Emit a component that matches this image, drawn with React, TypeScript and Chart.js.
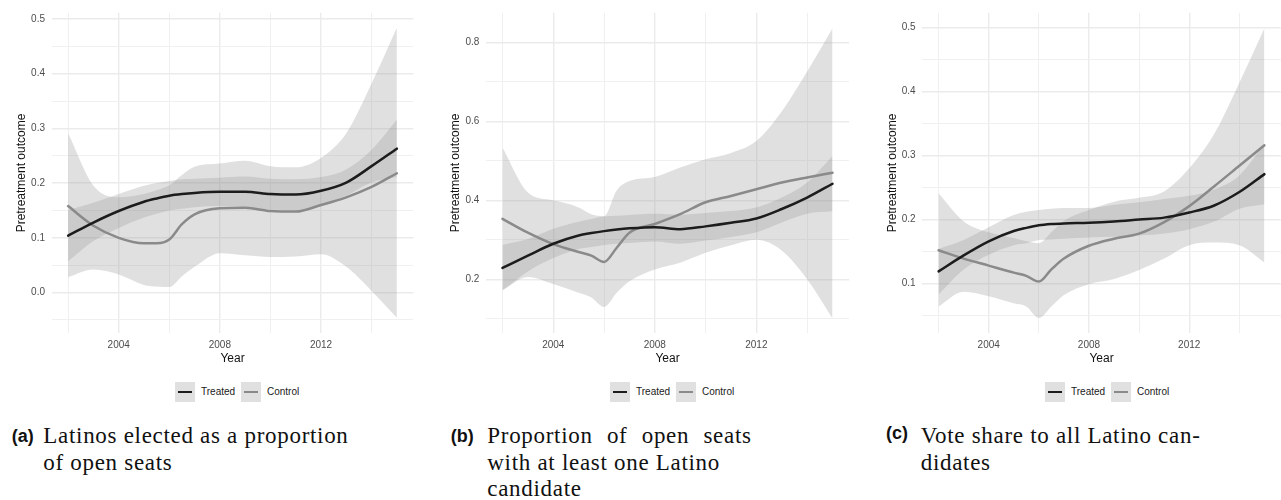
import React, { useEffect, useRef } from "react";
import { Chart, registerables } from "chart.js";

Chart.register(...registerables);

// ---------- shared data ----------
const years = [2002, 2003, 2004, 2005, 2005.5, 2006, 2006.5, 2007, 2008, 2009, 2010, 2011, 2012, 2013, 2014, 2015];
const xGridYears = [2002, 2004, 2006, 2008, 2010, 2012, 2014];
const xLabelYears = [2004, 2008, 2012];
const seriesLabels = ["Treated", "Control"];
const xTitle = "Year";
const yTitle = "Pretreatment outcome";

// ---------- (a) ----------
const treatedMeanA = [0.104, 0.128, 0.149, 0.166, 0.172, 0.177, 0.18, 0.182, 0.184, 0.184, 0.18, 0.179, 0.186, 0.201, 0.231, 0.263];
const treatedUpperA = [0.151, 0.164, 0.18, 0.195, 0.2, 0.204, 0.207, 0.208, 0.21, 0.212, 0.208, 0.207, 0.211, 0.225, 0.261, 0.316];
const treatedLowerA = [0.057, 0.094, 0.118, 0.137, 0.144, 0.15, 0.153, 0.156, 0.158, 0.156, 0.152, 0.151, 0.161, 0.177, 0.201, 0.211];
const controlMeanA = [0.158, 0.122, 0.1, 0.09, 0.09, 0.097, 0.125, 0.143, 0.154, 0.155, 0.149, 0.148, 0.16, 0.174, 0.193, 0.218];
const controlUpperA = [0.291, 0.195, 0.174, 0.18, 0.187, 0.196, 0.215, 0.23, 0.236, 0.241, 0.231, 0.229, 0.246, 0.291, 0.382, 0.484];
const controlLowerA = [0.028, 0.042, 0.033, 0.014, 0.011, 0.01, 0.03, 0.047, 0.072, 0.068, 0.065, 0.066, 0.07, 0.047, 0.003, -0.046];
const yGridA = [-0.05, 0, 0.05, 0.1, 0.15, 0.2, 0.25, 0.3, 0.35, 0.4, 0.45, 0.5];
const yLabelA = [0, 0.1, 0.2, 0.3, 0.4, 0.5];
const captionLabelA = "(a)";
const captionA = ["Latinos elected as a proportion", "of open seats"];

// ---------- (b) ----------
const treatedMeanB = [0.229, 0.26, 0.29, 0.311, 0.317, 0.322, 0.326, 0.329, 0.332, 0.327, 0.334, 0.343, 0.354, 0.378, 0.407, 0.442];
const treatedUpperB = [0.287, 0.302, 0.328, 0.346, 0.353, 0.359, 0.361, 0.363, 0.366, 0.364, 0.368, 0.373, 0.382, 0.407, 0.445, 0.512];
const treatedLowerB = [0.172, 0.22, 0.254, 0.277, 0.282, 0.287, 0.29, 0.292, 0.296, 0.29, 0.298, 0.307, 0.319, 0.344, 0.366, 0.372];
const controlMeanB = [0.353, 0.318, 0.289, 0.269, 0.26, 0.244, 0.28, 0.318, 0.34, 0.365, 0.395, 0.411, 0.428, 0.445, 0.458, 0.47];
const controlUpperB = [0.533, 0.42, 0.4, 0.382, 0.365, 0.36, 0.425, 0.449, 0.459, 0.483, 0.504, 0.52, 0.55, 0.625, 0.726, 0.835];
const controlLowerB = [0.172, 0.206, 0.188, 0.166, 0.154, 0.13, 0.166, 0.195, 0.225, 0.242, 0.267, 0.286, 0.3, 0.273, 0.2, 0.101];
const yGridB = [0.1, 0.2, 0.3, 0.4, 0.5, 0.6, 0.7, 0.8];
const yLabelB = [0.2, 0.4, 0.6, 0.8];
const captionLabelB = "(b)";
const captionB = ["Proportion of open seats", "with at least one Latino", "candidate"];

// ---------- (c) ----------
const treatedMeanC = [0.119, 0.144, 0.166, 0.182, 0.187, 0.191, 0.193, 0.194, 0.195, 0.197, 0.2, 0.203, 0.211, 0.222, 0.243, 0.271];
const treatedUpperC = [0.154, 0.168, 0.188, 0.207, 0.212, 0.215, 0.217, 0.218, 0.218, 0.223, 0.227, 0.232, 0.237, 0.247, 0.269, 0.318];
const treatedLowerC = [0.083, 0.122, 0.145, 0.16, 0.163, 0.168, 0.169, 0.17, 0.172, 0.173, 0.175, 0.178, 0.185, 0.197, 0.217, 0.224];
const controlMeanC = [0.152, 0.139, 0.128, 0.117, 0.112, 0.103, 0.122, 0.139, 0.159, 0.17, 0.178, 0.196, 0.221, 0.252, 0.284, 0.316];
const controlUpperC = [0.241, 0.197, 0.18, 0.171, 0.166, 0.163, 0.18, 0.198, 0.215, 0.228, 0.234, 0.244, 0.28, 0.334, 0.414, 0.499];
const controlLowerC = [0.064, 0.087, 0.08, 0.069, 0.064, 0.046, 0.064, 0.082, 0.099, 0.107, 0.121, 0.139, 0.16, 0.164, 0.16, 0.133];
const yGridC = [0.05, 0.1, 0.15, 0.2, 0.25, 0.3, 0.35, 0.4, 0.45, 0.5];
const yLabelC = [0.1, 0.2, 0.3, 0.4, 0.5];
const captionLabelC = "(c)";
const captionC = ["Vote share to all Latino can-", "didates"];

// ---------- styling / layout ----------
const RIBBON = "rgba(153,153,153,0.3)";
const TREATED_COLOR = "#1c1c1c";
const CONTROL_COLOR = "#8a8a8a";
const CANVAS_H = 372;
const Y_AXIS_W = 40;
const X_AXIS_H = CANVAS_H - 333.3;
const SANS = "'Liberation Sans', Arial, sans-serif";
const SERIF = "'Liberation Serif', 'Times New Roman', serif";

type PanelData = {
  tm: number[]; tu: number[]; tl: number[];
  cm: number[]; cu: number[]; cl: number[];
  yGrid: number[]; yLabels: number[];
};

type PanelLayout = {
  canvasLeft: number; canvasWidth: number; chartLeft: number; chartRight: number;
  yMin: number; yMax: number; legendLeft: number;
  capLabelLeft: number; capLabelTop: number; capTextLeft: number; justifyFirst?: number;
};

const near = (list: number[], v: number) => list.some((l) => Math.abs(l - v) < 1e-9);

function Panel({ data, layout, label, caption }: { data: PanelData; layout: PanelLayout; label: string; caption: string[] }) {
  const ref = useRef<HTMLCanvasElement | null>(null);

  useEffect(() => {
    if (!ref.current) return;
    const pts = (arr: number[]) => years.map((x, i) => ({ x, y: arr[i] }));
    const ribbonBase = { borderColor: "transparent", borderWidth: 0, pointRadius: 0 };
    const chart = new Chart(ref.current, {
      type: "line",
      data: {
        datasets: [
          { label: "Treated upper", data: pts(data.tu), fill: "+1", backgroundColor: RIBBON, order: 4, ...ribbonBase },
          { label: "Treated lower", data: pts(data.tl), fill: false, order: 4, ...ribbonBase },
          { label: "Control upper", data: pts(data.cu), fill: "+1", backgroundColor: RIBBON, order: 3, ...ribbonBase },
          { label: "Control lower", data: pts(data.cl), fill: false, order: 3, ...ribbonBase },
          { label: seriesLabels[1], data: pts(data.cm), borderColor: CONTROL_COLOR, borderWidth: 2.5, fill: false, pointRadius: 0, order: 1 },
          { label: seriesLabels[0], data: pts(data.tm), borderColor: TREATED_COLOR, borderWidth: 2.5, fill: false, pointRadius: 0, order: 0 },
        ],
      } as any,
      options: {
        responsive: false,
        animation: false,
        devicePixelRatio: 1,
        events: [],
        layout: {
          padding: {
            left: layout.chartLeft - Y_AXIS_W - layout.canvasLeft,
            right: layout.canvasLeft + layout.canvasWidth - layout.chartRight,
            top: 11,
            bottom: 0,
          },
        },
        elements: {
          line: { cubicInterpolationMode: "monotone", borderCapStyle: "round" },
          point: { radius: 0 },
        },
        plugins: { legend: { display: false }, tooltip: { enabled: false } },
        scales: {
          x: {
            type: "linear",
            min: 2001.35,
            max: 2015.65,
            afterBuildTicks: (s: any) => {
              s.ticks = xGridYears.map((v) => ({ value: v }));
            },
            afterFit: (s: any) => {
              s.height = X_AXIS_H;
            },
            border: { display: false },
            grid: {
              drawTicks: false,
              color: (c: any) => (near(xLabelYears, c.tick?.value) ? "#ebebeb" : "#f0f0f0"),
              lineWidth: (c: any) => (near(xLabelYears, c.tick?.value) ? 1.4 : 1),
            },
            ticks: {
              autoSkip: false,
              maxRotation: 0,
              padding: 5.5,
              color: "#4d4d4d",
              font: { family: SANS, size: 10 },
              callback: (v: any) => (near(xLabelYears, Number(v)) ? String(v) : ""),
            },
            title: {
              display: true,
              text: xTitle,
              color: "#111",
              font: { family: SANS, size: 12 },
              padding: { top: 0, bottom: 6 },
            },
          },
          y: {
            type: "linear",
            min: layout.yMin,
            max: layout.yMax,
            afterBuildTicks: (s: any) => {
              s.ticks = data.yGrid.map((v) => ({ value: v }));
            },
            afterFit: (s: any) => {
              s.width = Y_AXIS_W;
            },
            border: { display: false },
            grid: {
              drawTicks: false,
              color: (c: any) => (near(data.yLabels, c.tick?.value) ? "#ebebeb" : "#f0f0f0"),
              lineWidth: (c: any) => (near(data.yLabels, c.tick?.value) ? 1.4 : 1),
            },
            ticks: {
              autoSkip: false,
              padding: 6.7,
              color: "#4d4d4d",
              font: { family: SANS, size: 10 },
              callback: (v: any) => (near(data.yLabels, Number(v)) ? Number(v).toFixed(1) : ""),
            },
            title: {
              display: true,
              text: yTitle,
              color: "#111",
              font: { family: SANS, size: 12 },
              padding: { top: 2.8, bottom: 0 },
            },
          },
        },
      } as any,
    });
    return () => chart.destroy();
  }, []);

  const L = layout.legendLeft;
  const keyStyle = (left: number): React.CSSProperties => ({
    position: "absolute",
    left,
    top: 382.3,
    width: 20,
    height: 19.4,
    background: "#e0e0e0",
  });
  const lineStyle = (color: string): React.CSSProperties => ({
    position: "absolute",
    left: 2.7,
    top: 8.5,
    width: 14.6,
    height: 2.5,
    background: color,
  });
  const legendText = (left: number): React.CSSProperties => ({
    position: "absolute",
    left,
    top: 386,
    fontFamily: SANS,
    fontSize: 10,
    lineHeight: "12px",
    color: "#1a1a1a",
    whiteSpace: "nowrap",
  });
  const baselines = [443.3, 470.5, 496.7];

  return (
    <>
      <canvas
        ref={ref}
        width={layout.canvasWidth}
        height={CANVAS_H}
        style={{ position: "absolute", left: layout.canvasLeft, top: 0, width: layout.canvasWidth, height: CANVAS_H }}
      />
      <div style={keyStyle(L)}>
        <div style={lineStyle(TREATED_COLOR)} />
      </div>
      <div style={legendText(L + 26)}>{seriesLabels[0]}</div>
      <div style={keyStyle(L + 66)}>
        <div style={lineStyle(CONTROL_COLOR)} />
      </div>
      <div style={legendText(L + 92)}>{seriesLabels[1]}</div>
      <div
        style={{
          position: "absolute",
          left: layout.capLabelLeft,
          top: layout.capLabelTop,
          fontFamily: SANS,
          fontWeight: "bold",
          fontSize: 18,
          lineHeight: "18px",
          color: "#111",
        }}
      >
        {label}
      </div>
      {caption.map((line, i) => (
        <div
          key={i}
          style={{
            position: "absolute",
            left: layout.capTextLeft,
            top: baselines[i] - 19.3,
            fontFamily: SERIF,
            fontSize: 23,
            lineHeight: "23px",
            letterSpacing: "0.7px",
            color: "#111",
            whiteSpace: "nowrap",
            ...(i === 0 && layout.justifyFirst
              ? { width: layout.justifyFirst, textAlign: "justify", textAlignLast: "justify", whiteSpace: "normal" }
              : {}),
          }}
        >
          {line}
        </div>
      ))}
    </>
  );
}

const dataA: PanelData = { tm: treatedMeanA, tu: treatedUpperA, tl: treatedLowerA, cm: controlMeanA, cu: controlUpperA, cl: controlLowerA, yGrid: yGridA, yLabels: yLabelA };
const dataB: PanelData = { tm: treatedMeanB, tu: treatedUpperB, tl: treatedLowerB, cm: controlMeanB, cu: controlUpperB, cl: controlLowerB, yGrid: yGridB, yLabels: yLabelB };
const dataC: PanelData = { tm: treatedMeanC, tu: treatedUpperC, tl: treatedLowerC, cm: controlMeanC, cu: controlUpperC, cl: controlLowerC, yGrid: yGridC, yLabels: yLabelC };

const layoutA: PanelLayout = { canvasLeft: 0, canvasWidth: 430, chartLeft: 51.7, chartRight: 413.3, yMin: -0.0745, yMax: 0.5115, legendLeft: 175, capLabelLeft: 11.7, capLabelTop: 426.5, capTextLeft: 43.3 };
const layoutB: PanelLayout = { canvasLeft: 430, canvasWidth: 430, chartLeft: 486, chartRight: 849, yMin: 0.0633, yMax: 0.875, legendLeft: 610, capLabelLeft: 450.7, capLabelTop: 426.5, capTextLeft: 487.3, justifyFirst: 264.4 };
const layoutC: PanelLayout = { canvasLeft: 860, canvasWidth: 421, chartLeft: 922.3, chartRight: 1280.7, yMin: 0.0222, yMax: 0.5233, legendLeft: 1045, capLabelLeft: 886, capLabelTop: 423.5, capTextLeft: 920.7 };

export default function App() {
  return (
    <div style={{ position: "absolute", left: 0, top: 0, width: 1281, height: 500, background: "#fff", overflow: "hidden" }}>
      <Panel data={dataA} layout={layoutA} label={captionLabelA} caption={captionA} />
      <Panel data={dataB} layout={layoutB} label={captionLabelB} caption={captionB} />
      <Panel data={dataC} layout={layoutC} label={captionLabelC} caption={captionC} />
    </div>
  );
}
